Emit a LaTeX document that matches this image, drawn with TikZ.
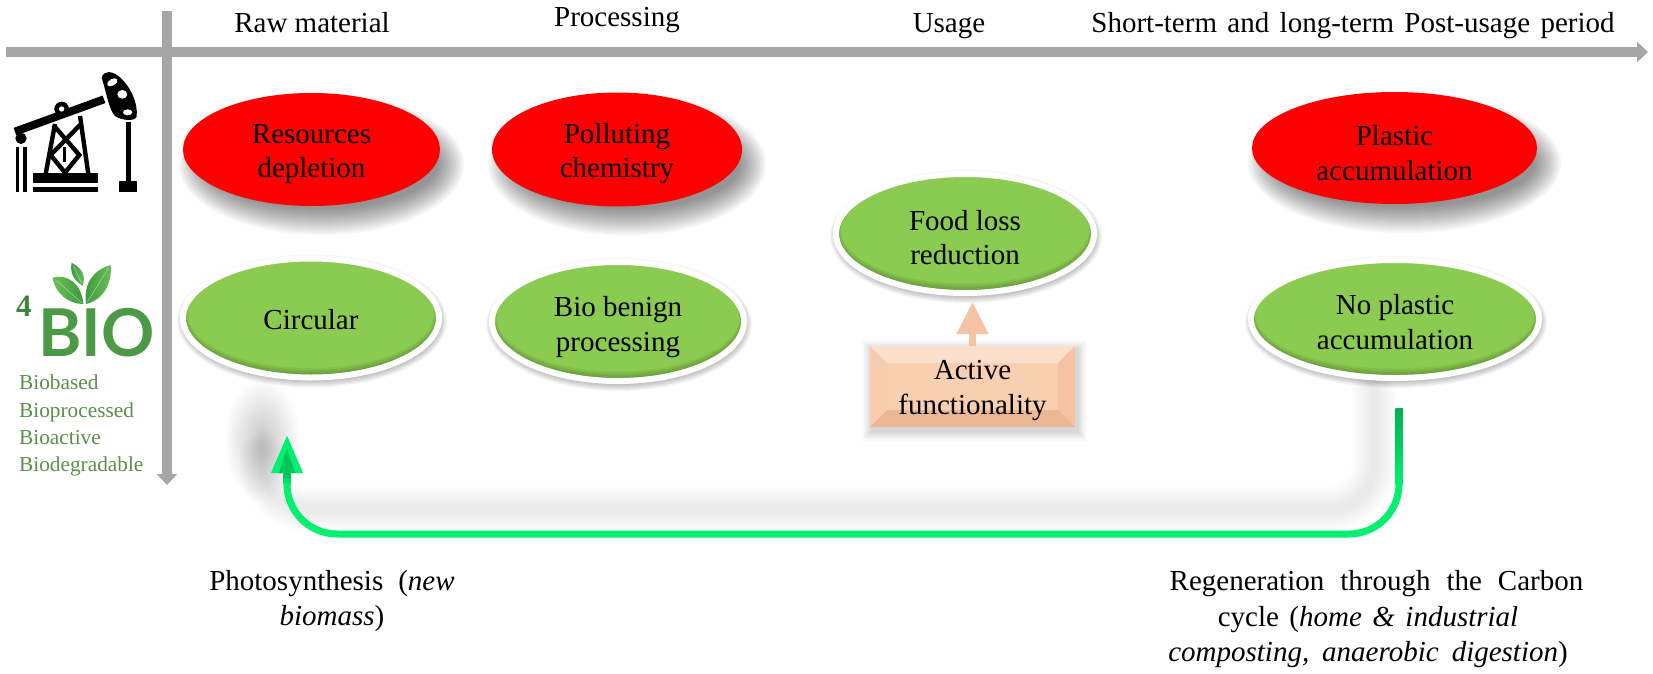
\documentclass[tikz,border=0pt]{standalone}
\usepackage{fontspec}
\setmainfont{Liberation Serif}
\newfontfamily\logofont{Lato}
\usetikzlibrary{shapes.geometric,arrows.meta}
\definecolor{axisgrey}{HTML}{A6A6A6}
\definecolor{ovalgreen}{HTML}{8BCB51}
\definecolor{ovaldark}{HTML}{5F8F35}
\definecolor{peach}{HTML}{F9CFB1}
\definecolor{peachtop}{HTML}{FBDFCC}
\definecolor{peachleft}{HTML}{F8CCAE}
\definecolor{peachright}{HTML}{F5C3A3}
\definecolor{peachbottom}{HTML}{EBB896}
\definecolor{peachline}{HTML}{F4C3A3}
\definecolor{loopgreen}{HTML}{00F070}
\definecolor{loopdark}{HTML}{00B050}
\definecolor{logogreen}{HTML}{4C9A45}
\definecolor{leafdark}{HTML}{3B9A3E}
\definecolor{leaflight}{HTML}{6CBF55}
\definecolor{wordgreen}{HTML}{5B8F4A}
\tikzset{
  x=1pt,y=-1pt,
  label text/.style={font=\fontsize{29}{34.5}\selectfont,align=center,inner sep=0pt,outer sep=0pt},
  oval/.style={ellipse,label text,minimum width=2*#1},
  axis/.style={draw=axisgrey,line width=10pt,-{Triangle[length=11pt,width=20pt]}},
  bioword/.style={anchor=base west,inner sep=0pt,text=wordgreen,font=\fontsize{21.3}{24}\selectfont},
  rig/.style={line width=4.4pt,draw=black},
}
% invisible strut that lowers the text inside an oval
\newcommand{\lift}[1]{\rule{0pt}{#1pt}}
% soft drop shadow built from stacked translucent ellipses
\newcommand{\softoval}[7]{% cx cy rx ry dx dy opacity
  \foreach \i in {-12,-10,...,14}
    \fill[black,opacity=#7] (#1+#5,#2+#6) ellipse [x radius=#3+\i,y radius=#4+\i];}
% red problem oval
\newcommand{\redoval}[6]{% name cx cy rx ry text
  \softoval{#2}{#3}{#4}{#5}{10}{15}{0.034}
  \node[oval=#4,minimum height=2*#5,fill=red,inner sep=0pt] (#1) at (#2,#3) {#6};}
% green answer oval with white rim and darker bevelled edge
\newcommand{\greenoval}[6]{% name cx cy rx ry text
  \foreach \i in {0,1,...,7}
    \fill[black,opacity=0.035] (#2+1,#3+3) ellipse [x radius=#4+\i,y radius=#5+\i];
  \foreach \s/\p in {0/0,1/20,2/40,3/60,4/80,5/100}
    \fill[ovalgreen!\p!ovaldark] (#2,#3-0.7*\s) ellipse [x radius=#4-\s,y radius=#5-1.2*\s];
  \node[oval=#4,minimum height=2*#5,draw=white,line width=6pt] (#1) at (#2,#3) {#6};}
\begin{document}
\begin{tikzpicture}
\useasboundingbox (0,0) rectangle (1653,674);
\fill[white] (0,0) rectangle (1653,674);

% time axis and scenario axis
\coordinate (hstart) at (6,52);
\coordinate (hend) at (1648,52);
\coordinate (vstart) at (167,11);
\coordinate (vend) at (167,485);
\draw[axis] (hstart) -- (hend);
\draw[axis] (vstart) -- (vend);

% column headings
\node[label text,anchor=base] (h1) at (312,33) {Raw material};
\node[label text,anchor=base] (h2) at (617,27) {Processing};
\node[label text,anchor=base] (h3) at (949,33) {Usage};
\node[label text,anchor=base] (h4) at (1353,33) {\spaceskip=10.4pt Short-term and long-term Post-usage period};

% shadow thrown by the carbon loop
\shade[inner color=black!22,outer color=white] (262,440) ellipse [x radius=38,y radius=62];
\coordinate (sA) at (1374,365);
\coordinate (sB) at (1374,509);
\coordinate (sC) at (262,509);
\coordinate (sD) at (262,455);
\foreach \w in {44,38,...,8}
  \draw[black,opacity=0.012,line width=\w pt,line cap=round,rounded corners=45pt] (sA) -- (sB) -- (sC) -- (sD);

% problem ovals
\redoval{resources}{311.5}{149.5}{128.5}{56.5}{\lift{28}Resources\\depletion}
\redoval{polluting}{617}{149.5}{125}{57}{\lift{28}Polluting\\chemistry}
\redoval{plastic}{1394.5}{148}{142.5}{56}{\lift{30}Plastic\\accumulation}

% answer ovals
\greenoval{circular}{311}{318}{128}{59.5}{\lift{24}Circular}
\greenoval{benign}{618}{321.5}{126}{59.5}{\lift{31}Bio benign\\processing}
\greenoval{foodloss}{965}{233.5}{129}{59.5}{\lift{28}Food loss\\reduction}
\greenoval{noplastic}{1395}{319}{144}{59}{\lift{26}No plastic\\accumulation}

% bevelled box and its arrow
\foreach \i/\a in {10/0.02,8/0.03,6/0.03,4/0.04,2/0.04}
  \fill[black,opacity=\a] (870-\i+2,346-\i+4) rectangle (1075+\i+2,427+\i+4);
\node[label text,minimum width=205pt,minimum height=81pt,fill=peach] (active) at (972.5,386.5) {};
\fill[peachtop] (active.north west) -- (active.north east) -- ++(-17,17) -- ++(-171,0) -- cycle;
\fill[peachleft] (active.north west) -- (active.south west) -- ++(17,-17) -- ++(0,-47) -- cycle;
\fill[peachright] (active.north east) -- (active.south east) -- ++(-17,-17) -- ++(0,-47) -- cycle;
\fill[peachbottom] (active.south west) -- (active.south east) -- ++(-17,-17) -- ++(-171,0) -- cycle;
\node[label text,font=\fontsize{29}{35}\selectfont] (activetext) at (972.5,390.5) {Active\\functionality};
\draw[peachline,line width=7pt,-{Triangle[length=32pt,width=30pt]},shorten >=9pt] (active.north) -- (active.north |- foodloss.south);

% carbon loop arrow
\coordinate (loopstart) at (1399,408);
\coordinate (loopright) at (1399,534);
\coordinate (loopleft) at (287,534);
\coordinate (loopend) at (287,435);
\draw[loopgreen,line width=7pt,rounded corners=50pt,-{Triangle[length=38pt,width=30pt]}]
  (loopstart) -- (loopright) -- (loopleft) -- (loopend);
\shade[top color=loopdark,bottom color=loopgreen] (1395.5,408) rectangle (1402.5,484);
\shade[top color=loopdark!80!loopgreen,bottom color=loopgreen] (283.5,473) rectangle (290.5,484);
\fill[loopdark!70!loopgreen] (287,449) -- (279,473) -- (295,473) -- cycle;

% captions below the loop
\node[label text] (photo) at (332,601) {{\spaceskip=15pt Photosynthesis (\textit{new}}\\\textit{biomass})};
\node[label text,font=\fontsize{29}{35.5}\selectfont] (regen) at (1368,619.5) {\hspace*{17pt}{\spaceskip=16pt Regeneration through the Carbon}\\{\spaceskip=10.5pt cycle (\textit{home \& industrial}}\\{\spaceskip=13pt\textit{composting, anaerobic digestion})}};

% oil pump emblem
\begin{scope}[shift={(0,50)},x=0.3333pt,y=-0.3333pt]
  \fill[black] (305,82) .. controls (312,62) and (335,62) .. (355,78) .. controls (390,105) and (415,160) .. (410,200) .. controls (405,215) and (365,212) .. (345,198) .. controls (328,180) and (322,140) .. (305,82) -- cycle;
  \fill[white] (337,97) ellipse [x radius=17,y radius=10,rotate=-150];
  \fill[white] (367,133) ellipse [x radius=15,y radius=13];
  \fill[white] (383,187) ellipse [x radius=14,y radius=9];
  \draw[black,line width=8pt] (45,245) -- (312,148);
  \fill[black] (185,177) circle [radius=22];
  \fill[white] (185,177) circle [radius=8];
  \draw[rig] (165,222) -- (137,372);
  \draw[rig] (240,198) -- (265,372);
  \draw[rig] (160,225) -- (238,315) -- (195,368);
  \draw[rig] (240,225) -- (152,315) -- (195,368);
  \draw[black,line width=3pt] (195,290) -- (195,335);
  \fill[black] (100,370) rectangle (295,400);
  \fill[black] (100,412) rectangle (295,425);
  \fill[black] (63,265) circle [radius=17];
  \fill[black] (48,290) rectangle (58,425);
  \fill[black] (70,290) rectangle (80,425);
  \fill[black] (378,215) rectangle (392,395);
  \fill[black] (358,393) rectangle (412,425);
\end{scope}

% 4BIO emblem
\begin{scope}[shift={(0,240)},x=0.3333pt,y=-0.3333pt]
  \shade[left color=leafdark,right color=leaflight] (215,68) .. controls (208,100) and (225,125) .. (248,137) .. controls (258,110) and (248,85) .. (215,68) -- cycle;
  \shade[left color=leaflight,right color=leafdark] (158,113) .. controls (200,100) and (245,130) .. (250,192) .. controls (205,192) and (165,160) .. (158,113) -- cycle;
  \shade[left color=leafdark,right color=leaflight] (332,75) .. controls (280,90) and (250,130) .. (258,192) .. controls (310,180) and (337,130) .. (332,75) -- cycle;
  \draw[white,opacity=0.45,line width=0.6pt] (170,122) -- (245,188);
  \draw[white,opacity=0.45,line width=0.6pt] (325,85) -- (262,186);
  \draw[white,opacity=0.45,line width=0.6pt] (220,78) -- (245,130);
\end{scope}
\node[anchor=base west,inner sep=0pt,text=logogreen,font=\fontsize{66}{66}\logofont\bfseries] (bio) at (38,356) {BIO};
\node[anchor=base west,inner sep=0pt,text=logogreen!85!black,font=\fontsize{31}{31}\selectfont\bfseries] (four) at (16,316) {4};
\node[bioword] (w1) at (19,389) {Biobased};
\node[bioword] (w2) at (19,417) {Bioprocessed};
\node[bioword] (w3) at (19,444) {Bioactive};
\node[bioword] (w4) at (19,471) {Biodegradable};
\end{tikzpicture}
\end{document}
